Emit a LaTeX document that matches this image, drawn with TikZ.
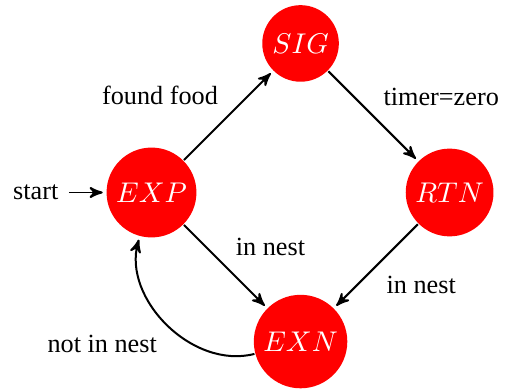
\documentclass[tikz,border=0pt]{standalone}
\usepackage{fontspec}
\setmainfont{Liberation Serif}
\usetikzlibrary{automata,positioning,arrows}
\usetikzlibrary{quotes}

\begin{document}
\begin{tikzpicture}[
	node distance = 52.3pt and 52.3pt, on grid,
	->,>=stealth',shorten >=1pt,line width=0.7pt,
	font=\fontsize{9.2}{11}\selectfont,
	st/.style = {state, draw=none, fill=#1, text=white, inner sep=2.3pt,
		font=\fontsize{10}{12}\selectfont}
	]
	\useasboundingbox (-53.16pt,-70pt) rectangle (125.09pt,67.54pt);
	
	\node (exp) [st=red] {$EXP$};
	\node (sig) [st=red,above right=of exp] {$SIG$};
	\node (rtn) [st=red,below right=of sig] {$RTN$};
	\node (exn) [st=red,below right=of exp] {$EXN$};
	\node (start) [left=12.9pt of exp.west,anchor=east] {start};
	%
	\draw[->] (start) to (exp);
	\draw[->] (exp) to ["found food"] (sig);
	\draw[->] (sig) to ["timer=zero"] (rtn);
	\draw[->] (exp) to ["in nest"] (exn);
	\draw[->] (rtn) to ["in nest"] (exn);
	\draw[->, bend left=60] (exn) to ["not in nest"] (exp);
\end{tikzpicture}
\end{document}
